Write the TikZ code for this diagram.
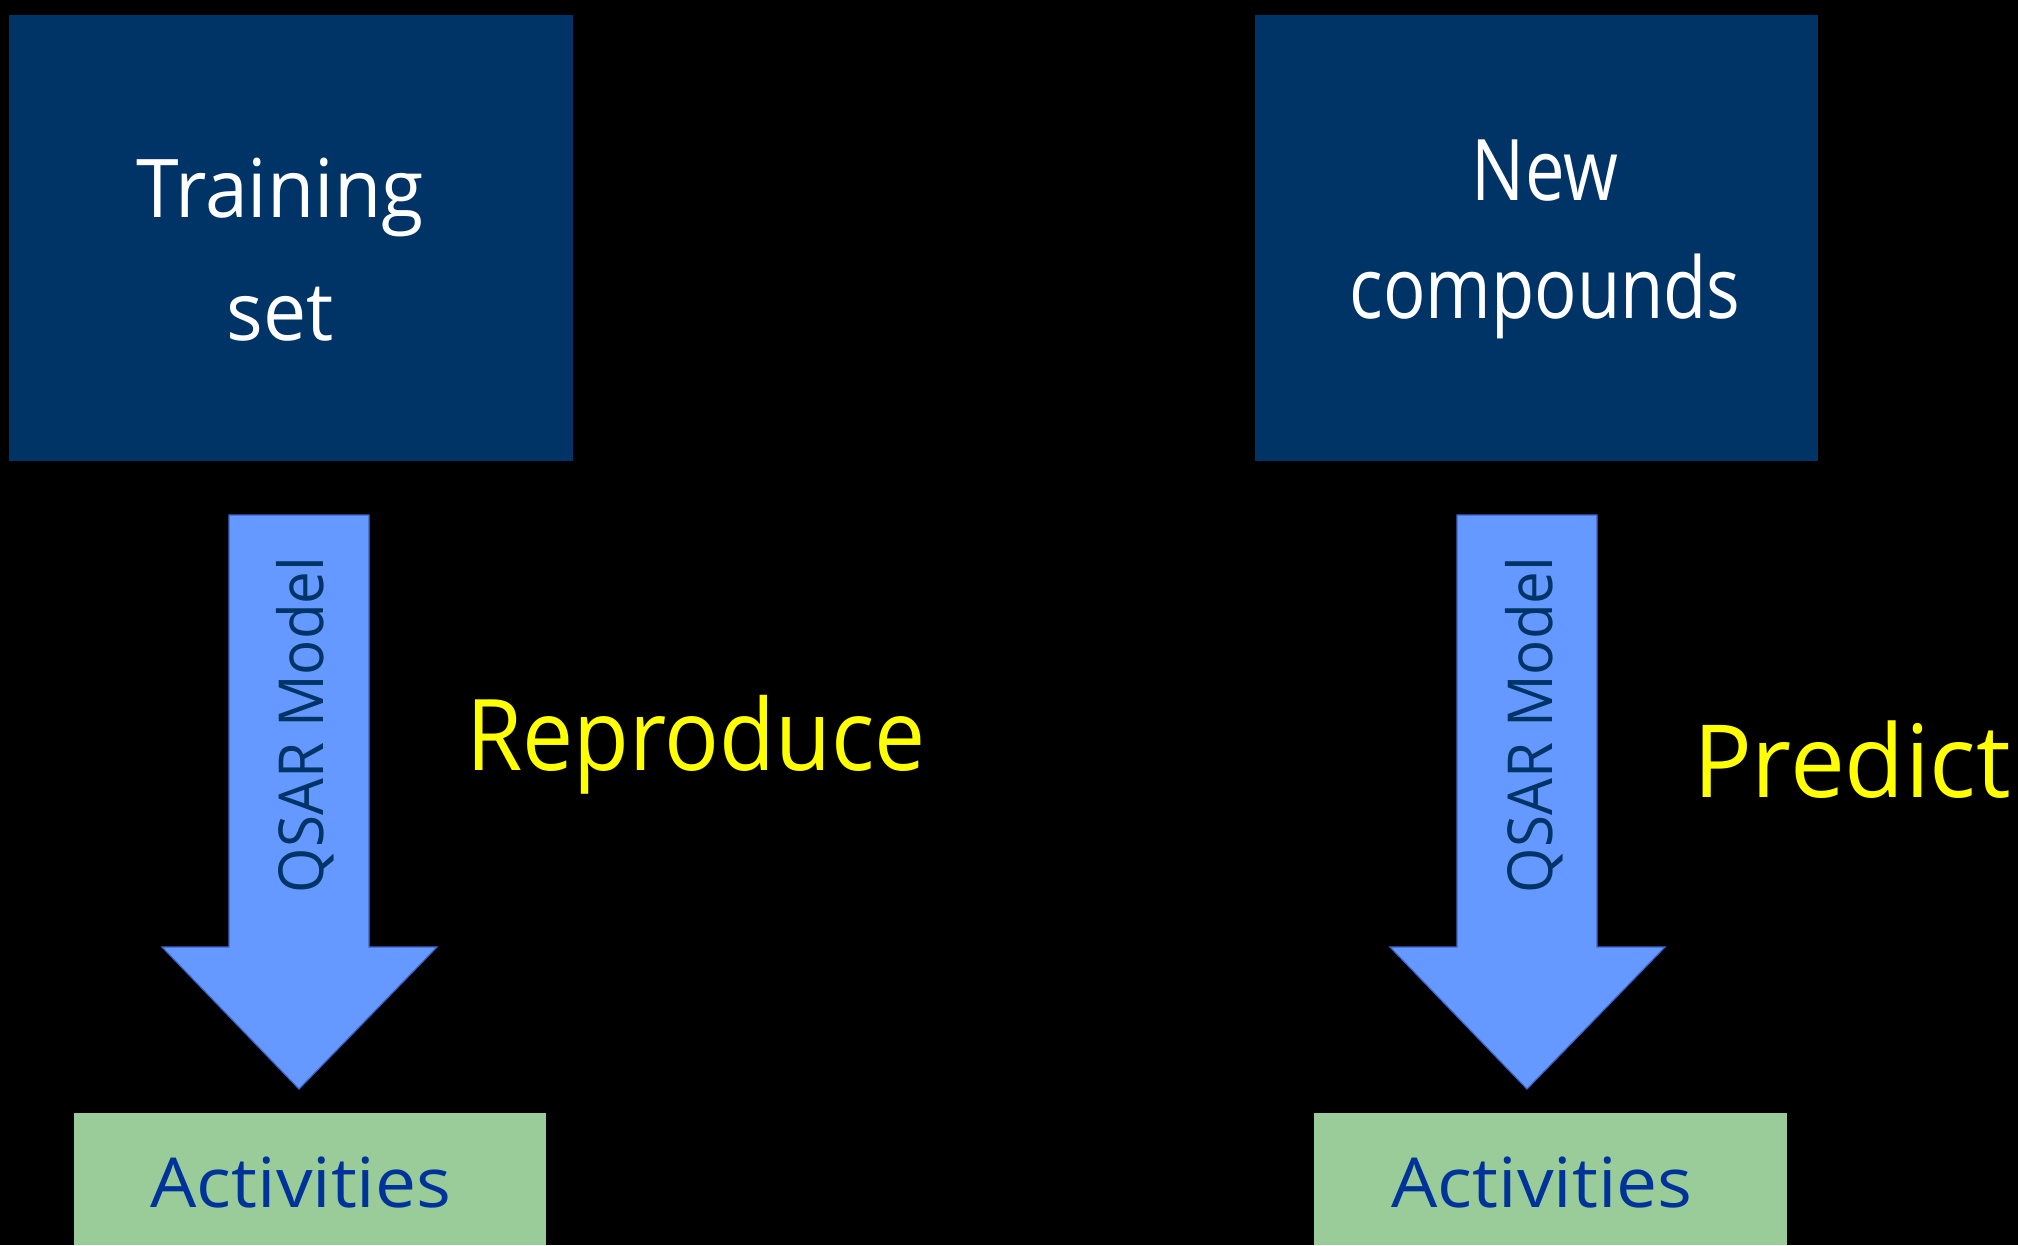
\documentclass[tikz,border=0pt]{standalone}
\usepackage{fontspec}
\setmainfont{Open Sans}
\usepackage{graphicx}
\definecolor{boxblue}{RGB}{0,51,102}
\definecolor{arrowblue}{RGB}{102,153,255}
\definecolor{arrowedge}{RGB}{60,100,200}
\definecolor{actgreen}{RGB}{153,204,153}
\definecolor{acttext}{RGB}{0,51,153}
\definecolor{hiyellow}{RGB}{255,255,0}
\newcommand{\twolines}[4]{\vtop{\baselineskip=#1\lineskiplimit=-1000pt\hbox to 0pt{\hss\scalebox{#4}[1]{#2}\hss}\hbox to 0pt{\hss\scalebox{#4}[1]{#3}\hss}}}
\tikzset{
  darkbox/.style={rectangle, fill=boxblue, inner sep=0pt},
  greenbox/.style={rectangle, fill=actgreen, inner sep=0pt},
  lbl/.style={inner sep=0pt, anchor=base},
  fatarrow/.pic={
    \filldraw[fill=arrowblue, draw=arrowedge, line width=1.2pt, line join=miter]
      (-70,-574) -- (70,-574) -- (70,-142) -- (138,-142) -- (0,0)
      -- (-137,-142) -- (-70,-142) -- cycle;
  }
}
\begin{document}
\begin{tikzpicture}[x=1pt,y=-1pt]
\fill[black] (0,0) rectangle (2018,1245);
\useasboundingbox (0,0) rectangle (2018,1245);

% boxes
\node[darkbox, minimum width=564pt, minimum height=446pt] (train) at (291,238) {};
\node[darkbox, minimum width=563pt, minimum height=446pt] (newc) at (1536.5,238) {};
\node[greenbox, minimum width=472pt, minimum height=132pt] (act1) at (310,1179) {};
\node[greenbox, minimum width=473pt, minimum height=132pt] (act2) at (1550.5,1179) {};

% box texts
\node[lbl, text=white, font=\fontsize{81pt}{81pt}\selectfont] (traintxt) at (280,217)
  {\twolines{123pt}{Training}{set}{0.95}};
\node[lbl, text=white, font=\fontsize{85pt}{85pt}\selectfont] (newtxt) at (1545,200)
  {\twolines{118pt}{New}{compounds}{0.83}};
\node[lbl, text=acttext, font=\fontsize{69pt}{69pt}\selectfont] (act1txt) at (301,1207)
  {\scalebox{1.06}[1]{Activities}};
\node[lbl, text=acttext, font=\fontsize{69pt}{69pt}\selectfont] (act2txt) at (1542,1207)
  {\scalebox{1.06}[1]{Activities}};

% arrows
\coordinate (tip1) at (299,1089);
\coordinate (tip2) at (1527,1089);
\pic at (tip1) {fatarrow};
\pic at (tip2) {fatarrow};
\node[lbl, rotate=90, text=boxblue, font=\fontsize{62pt}{62pt}\selectfont] (q1) at (323,725)
  {\scalebox{0.94}[1]{QSAR Model}};
\node[lbl, rotate=90, text=boxblue, font=\fontsize{62pt}{62pt}\selectfont] (q2) at (1552,725)
  {\scalebox{0.94}[1]{QSAR Model}};

% side labels
\node[lbl, text=hiyellow, font=\fontsize{99pt}{99pt}\selectfont] (repro) at (696,770)
  {\scalebox{0.92}[1]{Reproduce}};
\node[lbl, text=hiyellow, font=\fontsize{101pt}{101pt}\selectfont] (pred) at (1852,797)
  {\scalebox{0.97}[1]{Predict}};
\end{tikzpicture}
\end{document}
